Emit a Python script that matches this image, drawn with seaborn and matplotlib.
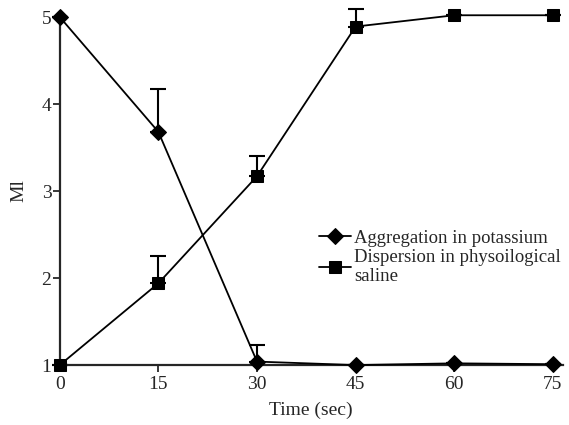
import matplotlib
matplotlib.use("Agg")
import matplotlib.pyplot as plt
import seaborn as sns
import pandas as pd
import numpy as np

time = [0, 15, 30, 45, 60, 75]
agg = [5.0, 3.68, 1.04, 1.0, 1.02, 1.01]
agg_err = [0.0, 0.49, 0.19, 0.0, 0.0, 0.0]
disp = [1.0, 1.94, 3.17, 4.89, 5.02, 5.02]
disp_err = [0.0, 0.31, 0.23, 0.2, 0.0, 0.0]
labels = ["Aggregation in potassium", "Dispersion in physoilogical\nsaline"]

sns.set_style("ticks")
plt.rcParams["font.family"] = ["Liberation Serif", "DejaVu Serif"]

fig = plt.figure(figsize=(5.69, 4.25), dpi=100)
ax = fig.add_axes([0.105, 0.141, 0.884, 0.819])

df = pd.DataFrame({
    "time": time * 2,
    "value": agg + disp,
    "series": [labels[0]] * len(time) + [labels[1]] * len(time),
})

for vals, err in [(agg, agg_err), (disp, disp_err)]:
    eb = ax.errorbar(time, vals, yerr=[np.zeros(len(err)), err], fmt="none", ecolor="black",
                     elinewidth=1.5, capsize=6, capthick=1.5, zorder=2)
    for art in eb.lines[1]:
        art.set_clip_on(False)
    for art in eb.lines[2]:
        art.set_clip_on(False)

sns.lineplot(data=df, x="time", y="value", hue="series", style="series",
             markers={labels[0]: "D", labels[1]: "s"}, dashes=False,
             palette={labels[0]: "black", labels[1]: "black"},
             linewidth=1.3, markersize=9, markeredgecolor="black",
             ax=ax, legend=True, zorder=3)

for ln in ax.lines:
    ln.set_clip_on(False)
    if ln.get_marker() == "D":
        ln.set_markersize(8)

ax.set_xlim(0, 76.5)
ax.set_ylim(1, 5)
ax.set_xticks([0, 15, 30, 45, 60, 75])
ax.set_yticks([1, 2, 3, 4, 5])
ax.tick_params(axis="both", labelsize=14, length=5, width=1.3, direction="out", pad=1)
ax.tick_params(axis="x", pad=3)
for s in ["top", "right"]:
    ax.spines[s].set_visible(False)
for s in ["left", "bottom"]:
    ax.spines[s].set_linewidth(1.6)
ax.set_xlabel("Time (sec)", fontsize=14, labelpad=6)
ax.set_ylabel("Ml", fontsize=14, labelpad=10)

h, l = ax.get_legend_handles_labels()
for hh in h:
    if hh.get_marker() == "D":
        hh.set_markersize(8)
leg = ax.legend(h, l, loc="upper left", bbox_to_anchor=(0.5, 0.41), frameon=False,
                fontsize=13.5, handlelength=1.7, handletextpad=0.2, labelspacing=0.1,
                borderaxespad=0)

fig.savefig("out.png", dpi=100)
